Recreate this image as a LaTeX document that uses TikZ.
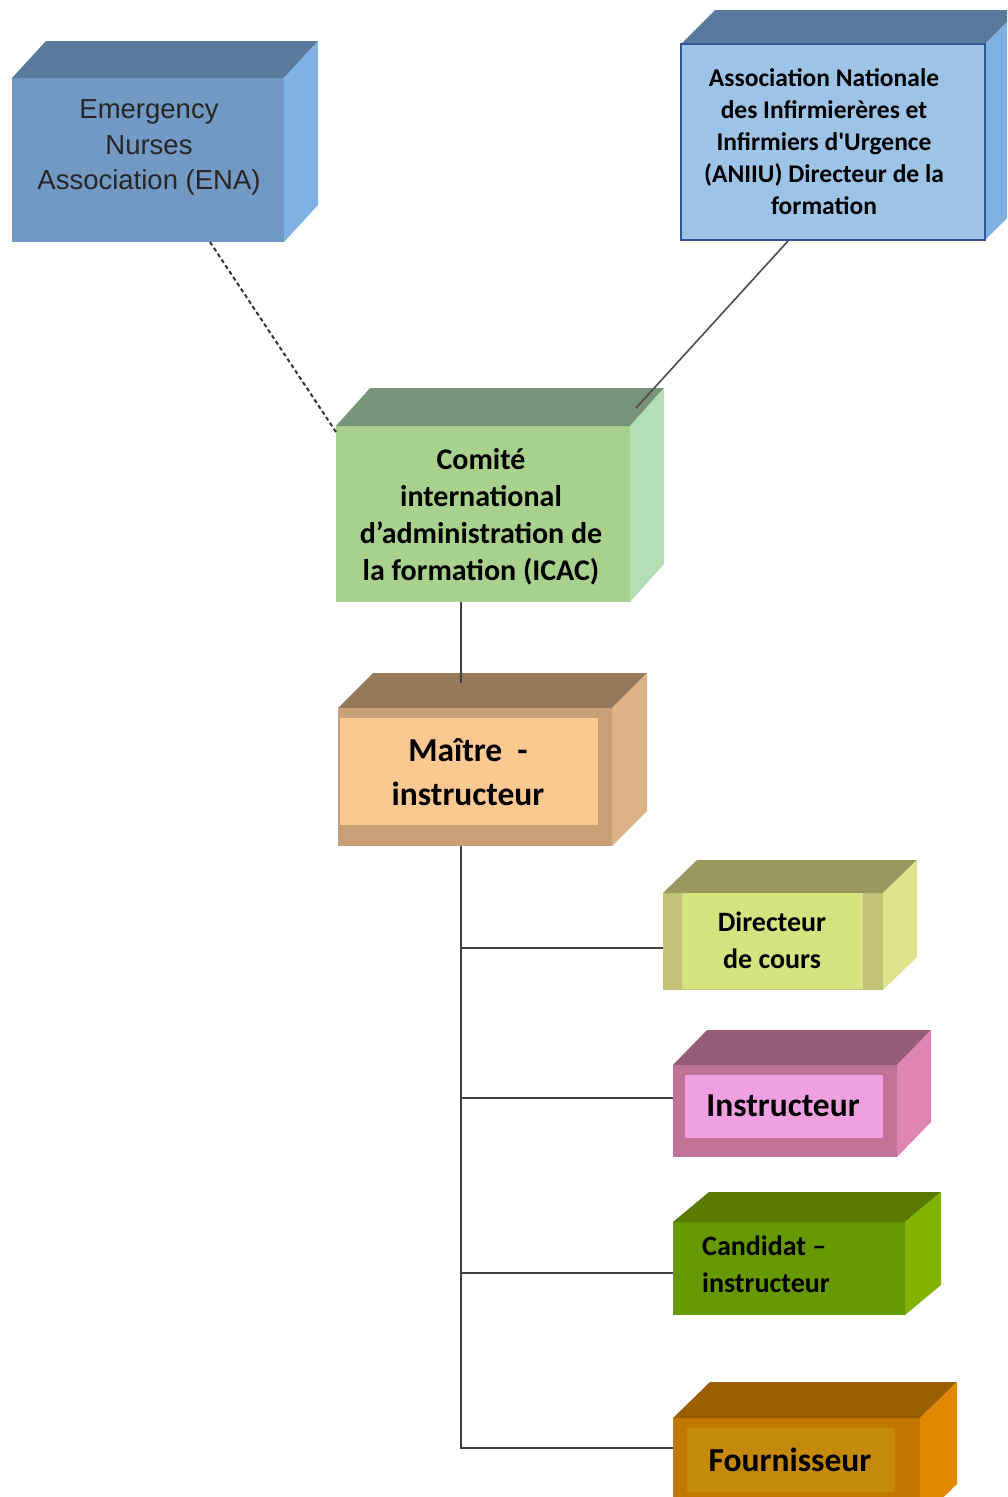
\documentclass[tikz,border=0pt]{standalone}
\usepackage{fontspec}
\setmainfont{Carlito}
\newfontfamily\arialfont{Liberation Sans}
\definecolor{enaF}{HTML}{7299C4}\definecolor{enaT}{HTML}{597A9C}\definecolor{enaS}{HTML}{7FB2E2}
\definecolor{anF}{HTML}{9DC3E6}\definecolor{anT}{HTML}{597A9C}\definecolor{anS}{HTML}{7EB0E0}\definecolor{anB}{HTML}{2F5597}
\definecolor{icF}{HTML}{A9D18E}\definecolor{icT}{HTML}{789478}\definecolor{icS}{HTML}{B4DEB4}
\definecolor{maF}{HTML}{C8A078}\definecolor{maI}{HTML}{FBC892}\definecolor{maT}{HTML}{96785A}\definecolor{maS}{HTML}{DEB287}
\definecolor{diF}{HTML}{C3C078}\definecolor{diI}{HTML}{D4E280}\definecolor{diT}{HTML}{9B985F}\definecolor{diS}{HTML}{E1E38C}
\definecolor{inF}{HTML}{C07396}\definecolor{inI}{HTML}{F0A0E0}\definecolor{inT}{HTML}{965C78}\definecolor{inS}{HTML}{DE85B4}
\definecolor{caF}{HTML}{669900}\definecolor{caT}{HTML}{5A7A00}\definecolor{caS}{HTML}{80B400}
\definecolor{foF}{HTML}{C07800}\definecolor{foI}{HTML}{C58A0C}\definecolor{foT}{HTML}{9A6000}\definecolor{foS}{HTML}{E28800}
\newcommand{\mycube}[9]{%
  \fill[#7] (#1,#2) rectangle (#3,#4);
  \fill[#8] (#1,#2) -- (#1+#5,#2-#6) -- (#3+#5,#2-#6) -- (#3,#2) -- cycle;
  \fill[#9] (#3,#2) -- (#3+#5,#2-#6) -- (#3+#5,#4-#6) -- (#3,#4) -- cycle;
}
\begin{document}
\begin{tikzpicture}[x=1pt,y=-1pt,
  lbl/.style={align=center,inner sep=0pt,text=black,font=\bfseries},
  conn/.style={draw=black!75,line width=2pt},
]
\clip (0,0) rectangle (1007,1497);
\fill[white] (0,0) rectangle (1007,1497);
% boxes
\mycube{12}{78}{284}{242}{34}{37}{enaF}{enaT}{enaS}
\mycube{681}{44}{985}{240}{34}{34}{anF}{anT}{anS}
\draw[anB,line width=1.5pt] (681,44) rectangle (985,240);
\mycube{336}{426}{630}{602}{34}{38}{icF}{icT}{icS}
\mycube{338}{708}{612}{846}{35}{35}{maF}{maT}{maS}
\fill[maI] (340,718) rectangle (598,825);
\mycube{663}{893}{883}{990}{34}{33}{diF}{diT}{diS}
\fill[diI] (682,893) rectangle (863,989);
\mycube{673}{1065}{897}{1157}{34}{35}{inF}{inT}{inS}
\fill[inI] (685,1075) rectangle (883,1138);
\mycube{673}{1222}{905}{1315}{36}{30}{caF}{caT}{caS}
\mycube{673}{1418}{920}{1520}{37}{36}{foF}{foT}{foS}
\fill[foI] (687,1428) rectangle (895,1492);
% texts
\node[align=center,inner sep=0pt,text=black!85,font=\arialfont\fontsize{27.5}{35.5}\selectfont] (ena) at (149,147.5) {Emergency\\Nurses\\Association (ENA)};
\node[lbl,font=\bfseries\fontsize{25.5}{32}\selectfont] (aniiu) at (824,142) {Association Nationale\\des Infirmierères et\\Infirmiers d\textquotesingle Urgence\\(ANIIU) Directeur de la\\formation};
\node[lbl,font=\bfseries\fontsize{30}{37}\selectfont] (icac) at (481,517) {Comité\\international\\d’administration de\\la formation (ICAC)};
\node[lbl,font=\bfseries\fontsize{33.5}{44}\selectfont] (maitre) at (468,772) {Maître~~-\\instructeur};
\node[lbl,font=\bfseries\fontsize{28}{37}\selectfont] (dir) at (772,940) {Directeur\\de cours};
\node[lbl,font=\bfseries\fontsize{33.5}{40}\selectfont] (inst) at (783,1106) {Instructeur};
\node[lbl,align=left,anchor=west,font=\bfseries\fontsize{28}{37}\selectfont] (cand) at (702,1264) {Candidat –\\instructeur};
\node[lbl,font=\bfseries\fontsize{33.5}{40}\selectfont] (four) at (790,1460) {Fournisseur};
% connector coordinates
\coordinate (enaB) at (210,242);
\coordinate (icTL) at (336,432);
\coordinate (anB) at (788,241);
\coordinate (icTop) at (636,408);
\coordinate (icBot) at (461,602);
\coordinate (maTop) at (461,683);
\coordinate (maBot) at (461,846);
\coordinate (j1) at (461,948);\coordinate (diL) at (663,948);
\coordinate (j2) at (461,1098);\coordinate (inL) at (673,1098);
\coordinate (j3) at (461,1273);\coordinate (caL) at (673,1273);
\coordinate (j4) at (461,1448);\coordinate (foL) at (673,1448);
\draw[black!80,line width=2pt,dash pattern=on 4pt off 3pt] (enaB) -- (icTL);
\draw[black!70,line width=1.6pt] (anB) -- (icTop);
\draw[conn] (icBot) -- (maTop);
\draw[conn] (maBot) -- (j4) -- (foL);
\draw[conn] (j1) -- (diL);
\draw[conn] (j2) -- (inL);
\draw[conn] (j3) -- (caL);
\end{tikzpicture}
\end{document}
